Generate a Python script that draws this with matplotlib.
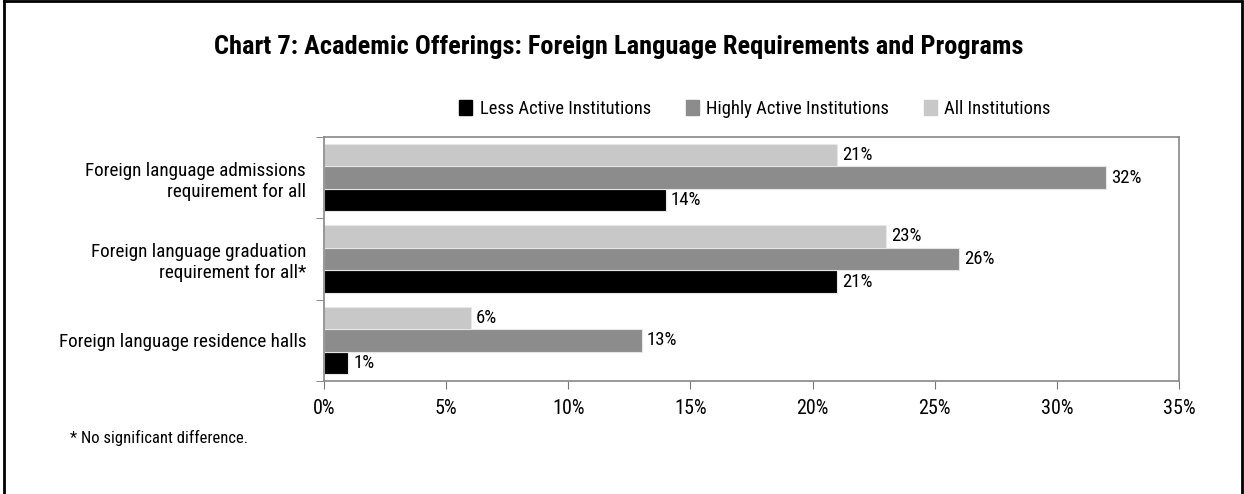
import matplotlib
matplotlib.use("Agg")
import matplotlib.pyplot as plt
import numpy as np
from matplotlib.patches import Rectangle
from matplotlib.lines import Line2D

plt.rcParams['font.family'] = ['Roboto Condensed', 'DejaVu Sans']

categories = ["Foreign language admissions\nrequirement for all",
              "Foreign language graduation\nrequirement for all*",
              "Foreign language residence halls"]
series_names = ["Less Active Institutions", "Highly Active Institutions", "All Institutions"]
less_active = [14, 21, 1]
highly_active = [32, 26, 13]
all_inst = [21, 23, 6]
xticks = [0, 5, 10, 15, 20, 25, 30, 35]
colors = ["#000000", "#8c8c8c", "#c8c8c8"]

fig = plt.figure(figsize=(12.44, 4.94), dpi=100)
ax = fig.add_axes([0.2605, 0.2287, 0.6873, 0.494])

n = len(categories)
ypos = np.arange(n)[::-1]  # top category at top
h = 0.277
offsets = [-h, 0, h]  # less (bottom), highly, all (top)
values = [less_active, highly_active, all_inst]
for vals, off, col, name in zip(values, offsets, colors, series_names):
    bars = ax.barh(ypos + off, vals, height=h, color=col, edgecolor="#e6e6e6",
                   linewidth=0.8, label=name)
    for b, v in zip(bars, vals):
        ax.text(v + 0.2, b.get_y() + b.get_height() / 2, f"{v}%", va="center",
                ha="left", fontsize=13.5)

ax.set_xlim(0, 35)
ax.set_ylim(-0.5, n - 0.5)
ax.set_xticks(xticks)
ax.set_xticklabels([f"{t}%" for t in xticks], fontsize=14.5)
ax.set_yticks(ypos)
ax.set_yticklabels(categories, fontsize=13.8, ha="right", linespacing=1.2)
ax.tick_params(axis="y", length=0, pad=13)
ax.tick_params(axis="x", length=6, color="#777777", pad=7)
# boundary ticks on y axis
ax.set_yticks(np.arange(n + 1) - 0.5, minor=True)
ax.tick_params(axis="y", which="minor", length=6, color="#777777")
for s in ax.spines.values():
    s.set_color("#888888")
    s.set_linewidth(1.2)

fig.text(0.497, 0.905, "Chart 7: Academic Offerings: Foreign Language Requirements and Programs",
         ha="center", va="center", fontsize=19, fontweight="bold")

handles = [Rectangle((0, 0), 1, 1, color=c) for c in colors]
leg = fig.legend(handles, series_names, loc="center", bbox_to_anchor=(0.607, 0.78),
                 ncol=3, frameon=False, fontsize=13.3, handlelength=0.7, handleheight=0.85,
                 handletextpad=0.4, columnspacing=1.9)

fig.text(0.056, 0.114, "* No significant difference.", fontsize=12, ha="left", va="center")

# figure border (left, top, right)
fig.add_artist(Line2D([0.003, 0.003], [0, 0.997], transform=fig.transFigure, color="black", lw=2))
fig.add_artist(Line2D([0.003, 0.997], [0.997, 0.997], transform=fig.transFigure, color="black", lw=2))
fig.add_artist(Line2D([0.998, 0.998], [0, 0.997], transform=fig.transFigure, color="black", lw=2))

fig.savefig("out.png", dpi=100)
